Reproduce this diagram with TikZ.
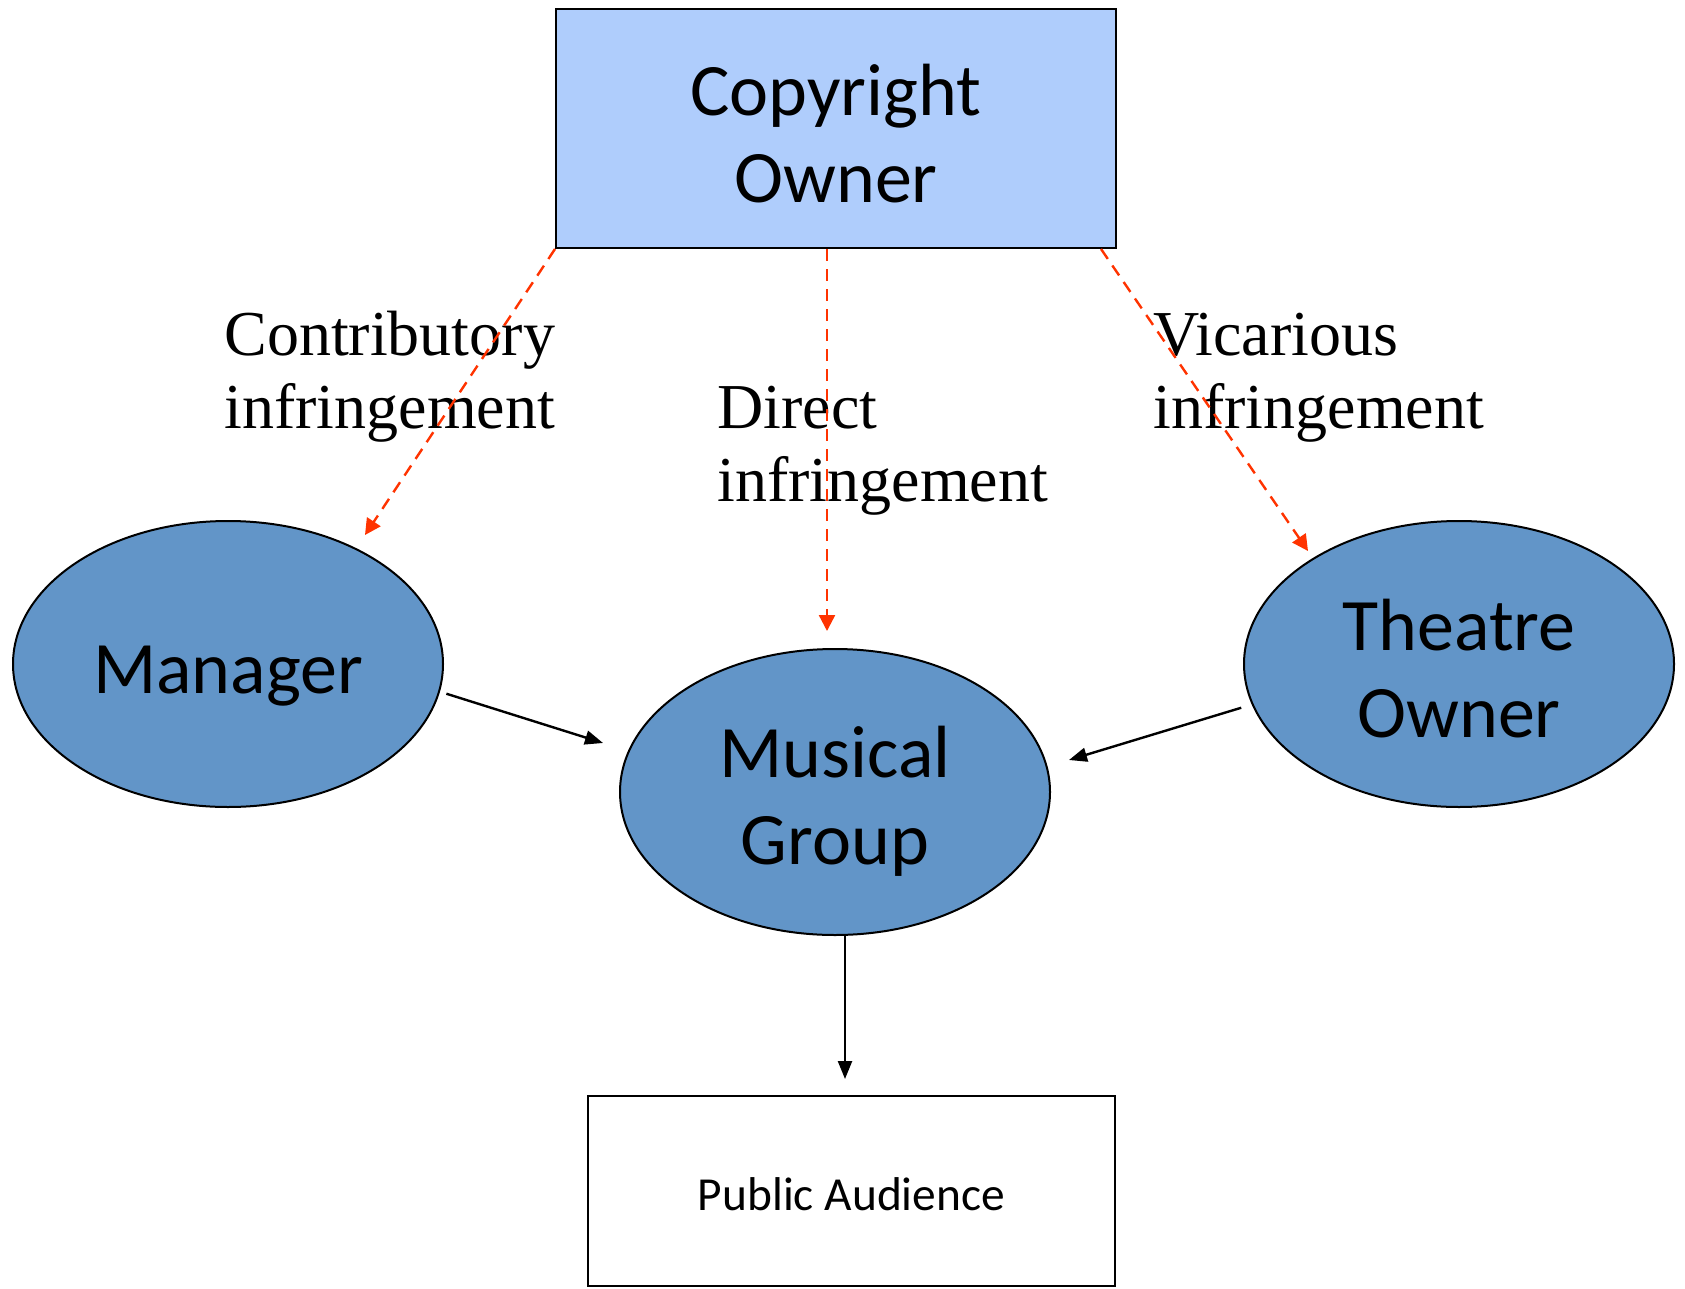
\documentclass[tikz,border=0pt]{standalone}
\usepackage{fontspec}
\setmainfont{Liberation Serif}
\newfontfamily\calib{Carlito}
\usetikzlibrary{arrows.meta,shapes.geometric,calc}
\definecolor{topblue}{RGB}{175,205,252}
\definecolor{ellblue}{RGB}{98,149,200}
\definecolor{redline}{RGB}{255,51,0}
\newcommand\lowr[2]{\raisebox{-#1}[\height][\depth]{#2}}
\tikzset{
  topbox/.style={draw=black,line width=1pt,fill=topblue,minimum width=280pt,minimum height=119.5pt,inner sep=0pt,align=center,font=\calib\fontsize{37}{43.5}\selectfont},
  botbox/.style={draw=black,line width=1pt,fill=white,minimum width=263.5pt,minimum height=95pt,inner sep=0pt,align=center,font=\calib\fontsize{23.7}{28}\selectfont},
  actor/.style={ellipse,draw=black,line width=1pt,fill=ellblue,minimum width=215pt,minimum height=143pt,inner sep=0pt,align=center,font=\calib\fontsize{37}{43.5}\selectfont},
  lbl/.style={inner sep=0pt,align=left,anchor=base west,font=\fontsize{32}{36.5}\selectfont},
  redarr/.style={draw=redline,line width=1.2pt,dash pattern=on 6pt off 4pt,-{Triangle[length=8pt,width=8pt]}},
  blkarr/.style={draw=black,line width=1.2pt,-{Triangle[length=9pt,width=7pt]}}
}
\begin{document}
\begin{tikzpicture}[x=0.5pt,y=-0.5pt]
\useasboundingbox (0,0) rectangle (1685,1289);
\node[topbox] (co) at (836,128.5) {\lowr{2.7pt}{Copyright}\\\lowr{2.7pt}{Owner}};
\node[actor] (mg) at (228,664) {\lowr{5.9pt}{Manager}};
\node[actor] (mu) at (835,792) {\lowr{4.8pt}{Musical}\\\lowr{4.8pt}{Group}};
\node[actor] (to) at (1459,664) {\lowr{2.2pt}{Theatre}\\\lowr{2.2pt}{Owner}};
\node[botbox] (pa) at (851.5,1191) {\lowr{1.6pt}{Public Audience}};
\node[lbl] (l1) at (224,428) {Contributory\\infringement};
\node[lbl] (l2) at (717,501) {Direct\\infringement};
\node[lbl] (l3) at (1153,428) {Vicarious\\infringement};
\coordinate (e1) at (365,535);
\coordinate (e2) at (827,631);
\coordinate (e3) at (1308,551);
\coordinate (e4) at (603,743);
\coordinate (e5) at (1069,760);
\coordinate (e6) at (845,1079);
\draw[redarr] (co.south west) -- (e1);
\draw[redarr] ([xshift=-4.5pt]co.south) -- (e2);
\draw[redarr] ([xshift=-8pt]co.south east) -- (e3);
\draw[blkarr] ([xshift=3.5pt]mg.-8) -- (e4);
\draw[blkarr] ([xshift=-6pt]to.192) -- (e5);
\draw[blkarr] (e6 |- mu.south) -- (e6);
\end{tikzpicture}
\end{document}
